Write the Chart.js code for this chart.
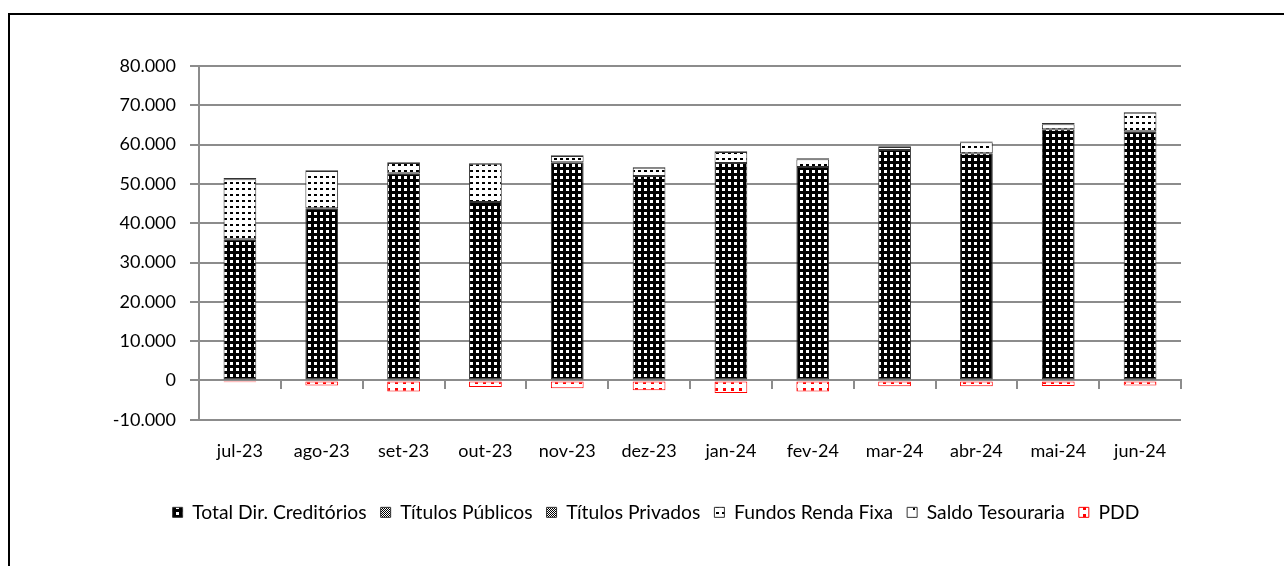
<!DOCTYPE html>
<html>
<head>
<meta charset="utf-8">
<script src="https://cdn.jsdelivr.net/npm/chart.js@4.4.1/dist/chart.umd.min.js"></script>
<style>
  html, body { margin: 0; padding: 0; background: #fff; overflow: hidden; }
  #frame { position: absolute; left: 8px; top: 13px; width: 2000px; height: 2000px; border-left: 2px solid #000; border-top: 2px solid #000; }
  #chart { position: absolute; left: 0; top: 0; }
</style>
</head>
<body>
<div id="frame"></div>
<canvas id="chart" width="1284" height="566"></canvas>
<script>
const MONTHS = ['jul-23', 'ago-23', 'set-23', 'out-23', 'nov-23', 'dez-23', 'jan-24', 'fev-24', 'mar-24', 'abr-24', 'mai-24', 'jun-24'];
const TOTAL_DIR = [35900, 43800, 52700, 45400, 55500, 52000, 55300, 54300, 58600, 57800, 63900, 63400];
const TIT_PUBLICOS = [0, 0, 0, 0, 0, 0, 0, 0, 0, 0, 0, 0];
const TIT_PRIVADOS = [0, 0, 0, 0, 0, 0, 0, 0, 0, 0, 0, 0];
const FUNDOS_RF = [15300, 9500, 2600, 9700, 1600, 2100, 2800, 2000, 800, 2800, 1300, 4700];
const SALDO_TES = [300, 200, 200, 200, 200, 200, 200, 200, 200, 200, 300, 200];
const PDD = [-500, -1300, -2800, -1700, -2000, -2500, -3200, -2800, -1500, -1500, -1400, -1300];
const Y_TICKS = [-10000, 0, 10000, 20000, 30000, 40000, 50000, 60000, 70000, 80000];

const FONT = 'Lato';
const GRID = '#8c8c8c';

// small canvas tiles used as fill patterns
function makePattern(w, h, bg, fg, dots) {
  const c = document.createElement('canvas');
  c.width = w; c.height = h;
  const g = c.getContext('2d');
  g.fillStyle = bg;
  g.fillRect(0, 0, w, h);
  g.fillStyle = fg;
  dots.forEach(d => g.fillRect(d[0], d[1], d[2], d[3]));
  return g.createPattern(c, 'repeat');
}

const ctx = document.getElementById('chart').getContext('2d');

const patTotal = makePattern(6, 6, '#000', '#fff', [[2, 2, 3, 3]]);
const patChecker = makePattern(2, 2, '#fff', '#000', [[0, 0, 1, 1], [1, 1, 1, 1]]);
const patFundos = makePattern(6, 6, '#fff', '#000', [[2, 2, 3, 2]]);
const patSaldo = makePattern(9, 9, '#fff', '#000', [[4, 4, 2, 2]]);
const patPdd = makePattern(8, 7, '#fff', '#ff0000', [[3, 3, 3, 3]]);

function ds(label, data, fill, border) {
  return {
    label,
    data,
    backgroundColor: fill,
    borderColor: border,
    borderWidth: 1,
    borderSkipped: false,
    barPercentage: 0.4,
    categoryPercentage: 1,
  };
}

new Chart(ctx, {
  type: 'bar',
  data: {
    labels: MONTHS,
    datasets: [
      ds('Total Dir. Creditórios', TOTAL_DIR, patTotal, '#333'),
      ds('Títulos Públicos', TIT_PUBLICOS, patChecker, '#333'),
      ds('Títulos Privados', TIT_PRIVADOS, patChecker, '#333'),
      ds('Fundos Renda Fixa', FUNDOS_RF, patFundos, '#333'),
      ds('Saldo Tesouraria', SALDO_TES, patSaldo, '#333'),
      ds('PDD', PDD, patPdd, '#ff0000'),
    ],
  },
  options: {
    responsive: false,
    animation: false,
    devicePixelRatio: 1,
    layout: { padding: { left: 28, right: 0, top: 66, bottom: 34 } },
    plugins: {
      tooltip: { enabled: false },
      legend: {
        position: 'bottom',
        labels: {
          boxWidth: 10,
          boxHeight: 10,
          padding: 14,
          color: '#000',
          font: { family: FONT, size: 19.3 },
        },
      },
    },
    scales: {
      x: {
        stacked: true,
        grid: { display: false, drawTicks: false },
        border: { display: false },
        ticks: { color: '#000', padding: 21, font: { family: FONT, size: 18 } },
        afterFit: (s) => { s.height = 69; },
      },
      x0: {
        type: 'category',
        position: { y: 0 },
        offset: true,
        grid: { offset: true, drawOnChartArea: false, tickLength: 8, color: GRID, lineWidth: 2 },
        border: { display: true, color: GRID, width: 2 },
        ticks: { display: false },
      },
      y: {
        stacked: true,
        min: -10000,
        max: 80000,
        afterBuildTicks: (s) => { s.ticks = Y_TICKS.map(v => ({ value: v })); },
        afterFit: (s) => { s.width = 171; },
        grid: { color: GRID, lineWidth: 2, tickLength: 9 },
        border: { display: true, color: GRID, width: 2 },
        ticks: {
          color: '#000',
          padding: 14,
          font: { family: FONT, size: 18 },
          callback: (v) => v.toLocaleString('pt-BR'),
        },
      },
      // empty spacer on the right so the legend stays centred on the frame
      yRight: {
        position: 'right',
        grid: { display: false },
        border: { display: false },
        ticks: { display: false },
        afterFit: (s) => { s.width = 103; },
      },
    },
  },
});
</script>
</body>
</html>
